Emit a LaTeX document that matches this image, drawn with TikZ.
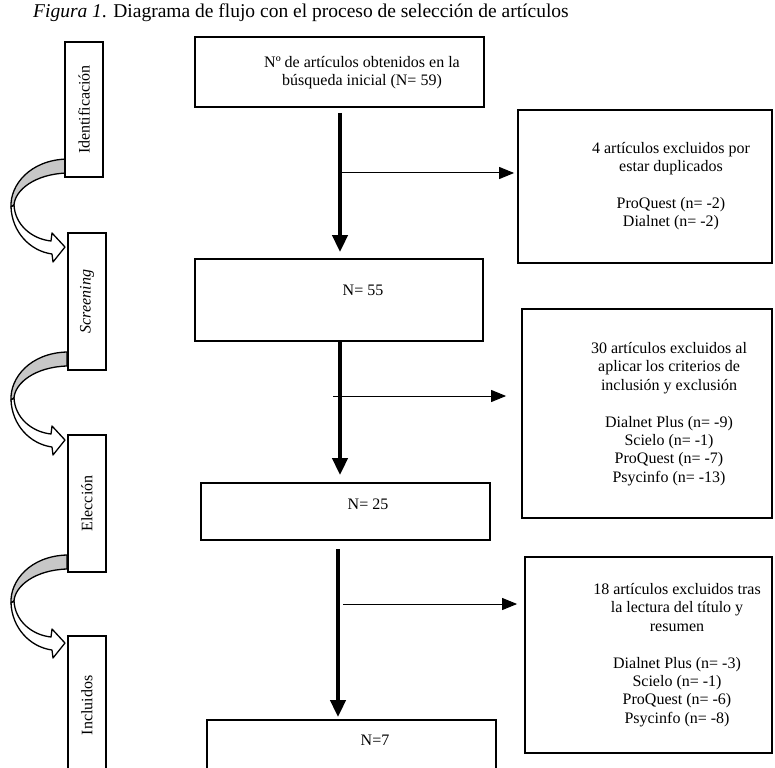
\documentclass[tikz,border=0pt]{standalone}
\usepackage{fontspec}
\setmainfont{Liberation Serif}
\usetikzlibrary{arrows.meta}
\definecolor{shadegray}{gray}{0.78}
\newcommand{\boxfont}{\fontsize{16}{18.4}\selectfont}
\newcommand{\titlefont}{\fontsize{19.5}{22}\selectfont}
\newcommand{\curvedstage}[1]{%
  \begin{scope}[yshift=#1]
    \filldraw[curvearrow, fill=shadegray]
      (67,159) .. controls (30,160) and (10,185) .. (11,207)
      -- (14,205) .. controls (15,190) and (35,174) .. (67,173) -- cycle;
    \filldraw[curvearrow, fill=white]
      (11,207) .. controls (12,232) and (30,251) .. (52,254)
      -- (53,262) -- (65,247) -- (52,233) -- (51,241)
      .. controls (32,239) and (15,225) .. (14,205) -- cycle;
  \end{scope}}
\begin{document}
\begin{tikzpicture}[x=1pt,y=-1pt,
  boxst/.style={draw, fill=white, line width=1.8pt, inner sep=0pt},
  txt/.style={font=\boxfont, align=center, inner sep=0pt},
  stagetxt/.style={draw, fill=white, line width=1.8pt, inner sep=0pt, font=\boxfont, rotate=90},
  mainarrow/.style={line width=4pt, -{Triangle[length=17pt,width=15pt]}},
  sidearrow/.style={line width=1pt, -{Triangle[length=15pt,width=12pt]}},
  curvearrow/.style={draw=black, line width=1.3pt, line join=round}
]
\useasboundingbox (0,0) rectangle (775,767);

% title
\node[anchor=base west, inner sep=0pt, font=\titlefont] (title) at (33,18)
  {\textit{Figura 1}. Diagrama de flujo con el proceso de selección de artículos};

% curved stage arrows
\curvedstage{0pt}
\curvedstage{-193pt}
\curvedstage{-396pt}

% stage boxes
\node[stagetxt, minimum width=135pt, minimum height=38pt] (s1) at (84,109.5) {Identificación};
\node[stagetxt, minimum width=137pt, minimum height=38pt] (s2) at (87,301.5) {\textit{Screening}};
\node[stagetxt, minimum width=137pt, minimum height=38pt] (s3) at (87,503.5) {Elección};
\node[stagetxt, minimum width=139pt, minimum height=38pt] (s4) at (87,705.5) {Incluidos};

% main boxes
\node[boxst, minimum width=289pt, minimum height=70pt] (b1) at (339.5,72) {};
\node[txt] (b1t) at (362,72.5) {Nº de artículos obtenidos en la\\búsqueda inicial (N= 59)};
\node[boxst, minimum width=288pt, minimum height=82pt] (b2) at (339,300) {};
\node[txt] (b2t) at (363,290) {N= 55};
\node[boxst, minimum width=289pt, minimum height=57pt] (b3) at (345.5,511.5) {};
\node[txt] (b3t) at (368,504) {N= 25};
\node[boxst, minimum width=289pt, minimum height=80pt] (b4) at (351.5,760) {};
\node[txt] (b4t) at (375,740) {N=7};

% excluded boxes
\node[boxst, minimum width=254pt, minimum height=153pt] (e1) at (645,186.5) {};
\node[txt] (e1t) at (671,186) {4 artículos excluidos por\\estar duplicados\\[18.4pt]ProQuest (n= -2)\\Dialnet (n= -2)};
\node[boxst, minimum width=250pt, minimum height=209pt] (e2) at (647,413.5) {};
\node[txt] (e2t) at (669,414) {30 artículos excluidos al\\aplicar los criterios de\\inclusión y exclusión\\[18.4pt]Dialnet Plus (n= -9)\\Scielo (n= -1)\\ProQuest (n= -7)\\Psycinfo (n= -13)};
\node[boxst, minimum width=247pt, minimum height=196pt] (e3) at (648.5,655) {};
\node[txt] (e3t) at (677,655) {18 artículos excluidos tras\\la lectura del título y\\resumen\\[18.4pt]Dialnet Plus (n= -3)\\Scielo (n= -1)\\ProQuest (n= -6)\\Psycinfo (n= -8)};

% main flow arrows
\coordinate (m1) at (340,113);
\coordinate (m2) at (340,341);
\coordinate (m3) at (338,549);
\draw[mainarrow, shorten >=6pt] (m1) -- (m1 |- b2.north);
\draw[mainarrow, shorten >=7pt] (m2) -- (m2 |- b3.north);
\draw[mainarrow, shorten >=2pt] (m3) -- (m3 |- b4.north);

% side arrows
\coordinate (j1) at (340,173);
\coordinate (j2) at (333,396);
\coordinate (j3) at (343,604);
\draw[sidearrow, shorten >=3pt] (j1) -- (j1 -| e1.west);
\draw[sidearrow, shorten >=15pt] (j2) -- (j2 -| e2.west);
\draw[sidearrow, shorten >=7pt] (j3) -- (j3 -| e3.west);
\end{tikzpicture}
\end{document}
